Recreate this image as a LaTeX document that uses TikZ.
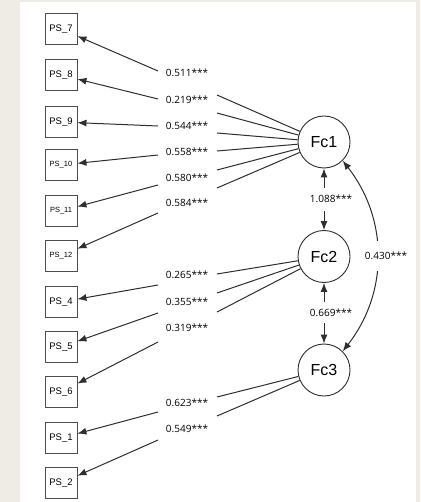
\documentclass[tikz,border=0pt]{standalone}
\usepackage{fontspec}
\setmainfont{Liberation Sans}
\newfontfamily\numfont{Open Sans}
\usetikzlibrary{arrows.meta}
\definecolor{bgbeige}{HTML}{EFECE6}
\definecolor{ln}{HTML}{2E2E2E}
\begin{document}
\begin{tikzpicture}[x=1pt,y=1pt,
  box/.style={draw=ln!85, line width=0.9pt, minimum width=32pt, minimum height=31pt, inner sep=0pt, font=\fontsize{9.5}{11}\selectfont},
  sbox/.style={box, font=\fontsize{7.5}{9}\selectfont},
  fac/.style={circle, draw=ln, line width=0.9pt, minimum size=52pt, inner sep=0pt, font=\fontsize{16}{18}\selectfont},
  lbl/.style={font=\numfont\fontsize{10}{12}\selectfont, inner sep=0pt},
  conn/.style={draw=ln, line width=1pt},
  tip/.tip={Latex[length=9pt,width=7pt]},
  arr/.style={conn, -tip},
  ]
\useasboundingbox (0,0) rectangle (420,-502);
\fill[bgbeige] (0,0) rectangle (420,-502);
\fill[white] (20,-2) rectangle (416,-502);

% observed variables
\foreach \n/\y in {7/29, 8/75, 9/122, 4/302, 5/347, 6/392, 1/438, 2/483}
  \node[box] (PS\n) at (61,-\y) {PS\_\n};
\foreach \n/\y in {10/165, 11/211, 12/256}
  \node[sbox] (PS\n) at (61,-\y) {PS\_\n};

% factors
\node[fac] (Fc1) at (324,-142) {Fc1};
\node[fac] (Fc2) at (324,-256.5) {Fc2};
\node[fac] (Fc3) at (324,-370) {Fc3};

% loadings
\foreach \b/\f/\yl/\yr/\yt/\v in {
  7/Fc1/71/95/73/0.511, 8/Fc1/99/113/100/0.219, 9/Fc1/126/133/126/0.544,
  10/Fc1/155/151/152/0.558, 11/Fc1/185/170/178/0.580, 12/Fc1/213/188/203/0.584,
  4/Fc2/285/274/275/0.265, 5/Fc2/313/293/302/0.355, 6/Fc2/342/312/328/0.319,
  1/Fc3/412/397/403/0.623, 2/Fc3/440/416/429/0.549}
{
  \coordinate (L\b) at (158,-\yl);
  \coordinate (R\b) at (217,-\yr);
  \draw[arr] (L\b) -- (PS\b);
  \draw[conn] (R\b) -- (\f);
  \node[lbl] (T\b) at (187,-\yt) {\v***};
}

% factor covariances
\coordinate (A1) at (324,-188);
\coordinate (A2) at (324,-211);
\draw[arr] (A1) -- (Fc1);
\draw[arr] (A2) -- (Fc2);
\node[lbl] (C12) at (331,-199) {1.088***};

\coordinate (B1) at (324,-302);
\coordinate (B2) at (324,-323);
\draw[arr] (B1) -- (Fc2);
\draw[arr] (B2) -- (Fc3);
\node[lbl] (C23) at (331,-313) {0.669***};

\draw[conn, tip-tip] (Fc3.45) to[bend right=38]
  node[lbl, fill=white, inner xsep=1pt, inner ysep=11pt, xshift=9pt] (C13) {0.430***} (Fc1.-45);
\end{tikzpicture}
\end{document}
